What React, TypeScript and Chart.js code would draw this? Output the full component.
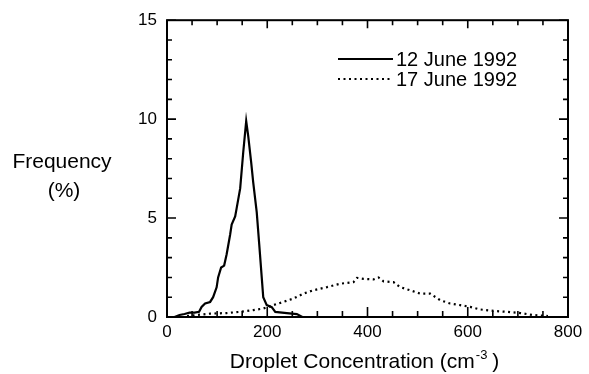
import { useEffect, useRef } from 'react';
import { Chart, registerables } from 'chart.js';

Chart.register(...registerables);

// ---- data ----
const seriesNames = ['12 June 1992', '17 June 1992'];

const june12X = [15, 25, 35, 45, 55, 64, 69, 76, 86, 92, 99, 102, 108, 114, 119, 126, 129, 136, 139, 146, 152, 158, 162, 168, 172, 179, 184, 189, 192, 199, 209, 216, 239, 259, 270];
const june12Y = [0, 0.1, 0.15, 0.22, 0.22, 0.26, 0.51, 0.68, 0.76, 1.0, 1.5, 2.0, 2.5, 2.6, 3.17, 4.17, 4.67, 5.08, 5.5, 6.5, 8.3, 9.9, 9.15, 7.8, 6.8, 5.3, 3.67, 2.0, 1.0, 0.6, 0.5, 0.26, 0.2, 0.15, 0];

const june17X = [40, 86, 119, 146, 172, 192, 212, 232, 252, 272, 292, 319, 345, 372, 379, 392, 412, 422, 432, 452, 465, 485, 505, 525, 545, 565, 585, 605, 625, 651, 678, 705, 730, 760];
const june17Y = [0.05, 0.17, 0.2, 0.26, 0.35, 0.43, 0.6, 0.76, 0.93, 1.18, 1.35, 1.51, 1.68, 1.76, 1.98, 1.93, 1.9, 2.0, 1.8, 1.76, 1.51, 1.35, 1.18, 1.18, 0.85, 0.68, 0.6, 0.51, 0.38, 0.31, 0.26, 0.2, 0.1, 0.05];

const xMajorTicks = [0, 200, 400, 600, 800];
const xMinorTicks = [50, 100, 150, 250, 300, 350, 450, 500, 550, 650, 700, 750];
const yMajorTicks = [0, 5, 10, 15];
const yMinorTicks = [1, 2, 3, 4, 6, 7, 8, 9, 11, 12, 13, 14];

const xTitleMain = 'Droplet Concentration (cm';
const xTitleSup = '-3';
const xTitleEnd = ' )';
const yTitleLines = ['Frequency', '(%)'];

const FONT = '"Liberation Sans", Arial, Helvetica, sans-serif';

const framePlugin = {
  id: 'frameTicks',
  afterDatasetsDraw(chart: any) {
    const { ctx, chartArea: a, scales } = chart;
    const x = scales.x;
    const y = scales.y;
    ctx.save();
    ctx.strokeStyle = '#000';
    ctx.lineWidth = 2;
    ctx.strokeRect(a.left, a.top, a.right - a.left, a.bottom - a.top);
    ctx.lineWidth = 1.6;
    ctx.beginPath();
    const vt = (v: number, bl: number, tl: number) => {
      const px = x.getPixelForValue(v);
      ctx.moveTo(px, a.bottom);
      ctx.lineTo(px, a.bottom - bl);
      ctx.moveTo(px, a.top);
      ctx.lineTo(px, a.top + tl);
    };
    const ht = (v: number, len: number) => {
      const py = y.getPixelForValue(v);
      ctx.moveTo(a.left, py);
      ctx.lineTo(a.left + len, py);
      ctx.moveTo(a.right, py);
      ctx.lineTo(a.right - len, py);
    };
    xMajorTicks.forEach((v) => vt(v, 10, 8));
    xMinorTicks.forEach((v) => vt(v, 6, 5));
    yMajorTicks.forEach((v) => ht(v, 9));
    yMinorTicks.forEach((v) => ht(v, 5));
    ctx.stroke();
    ctx.restore();
  },
  afterDraw(chart: any) {
    const { ctx, chartArea: a } = chart;
    ctx.save();
    ctx.fillStyle = '#000';
    // y title
    ctx.font = `21px ${FONT}`;
    ctx.textAlign = 'center';
    ctx.textBaseline = 'middle';
    ctx.fillText(yTitleLines[0], 62, 162);
    ctx.fillText(yTitleLines[1], 64, 191);
    // x title with superscript
    const mainFont = `21px ${FONT}`;
    const supFont = `13px ${FONT}`;
    ctx.font = mainFont;
    const w1 = ctx.measureText(xTitleMain).width;
    const w3 = ctx.measureText(xTitleEnd).width;
    ctx.font = supFont;
    const w2 = ctx.measureText(xTitleSup).width;
    const total = w1 + w2 + w3;
    const cx = (a.left + a.right) / 2 - 3;
    let sx = cx - total / 2;
    const by = 368;
    ctx.textAlign = 'left';
    ctx.textBaseline = 'alphabetic';
    ctx.font = mainFont;
    ctx.fillText(xTitleMain, sx, by);
    sx += w1;
    ctx.font = supFont;
    ctx.fillText(xTitleSup, sx + 1, by - 9);
    sx += w2;
    ctx.font = mainFont;
    ctx.fillText(xTitleEnd, sx, by);
    // legend
    const ds = chart.data.datasets;
    const rows = [59, 79];
    ctx.font = `20px ${FONT}`;
    ctx.textBaseline = 'middle';
    rows.forEach((ry, i) => {
      ctx.save();
      ctx.strokeStyle = '#000';
      ctx.lineWidth = ds[i].borderWidth;
      ctx.setLineDash(ds[i].borderDash || []);
      ctx.beginPath();
      ctx.moveTo(338, ry);
      ctx.lineTo(393, ry);
      ctx.stroke();
      ctx.restore();
      ctx.fillText(ds[i].label, 396, ry + 1);
    });
    ctx.restore();
  },
};

export default function App() {
  const ref = useRef<HTMLCanvasElement | null>(null);
  useEffect(() => {
    if (!ref.current) return;
    const chart = new Chart(ref.current, {
      type: 'line',
      data: {
        datasets: [
          {
            label: seriesNames[0],
            data: june12X.map((v, i) => ({ x: v, y: june12Y[i] })),
            borderColor: '#000',
            borderWidth: 2.2,
            pointRadius: 0,
            tension: 0,
            fill: false,
          },
          {
            label: seriesNames[1],
            data: june17X.map((v, i) => ({ x: v, y: june17Y[i] })),
            borderColor: '#000',
            borderWidth: 2.2,
            borderDash: [2, 3.5],
            pointRadius: 0,
            tension: 0,
            fill: false,
          },
        ],
      },
      options: {
        animation: false,
        responsive: false,
        layout: { padding: { left: 0, top: 16, right: 21, bottom: 0 } },
        plugins: {
          legend: { display: false },
          tooltip: { enabled: false },
          title: { display: false },
        },
        scales: {
          x: {
            type: 'linear',
            min: 0,
            max: 800,
            grid: { display: false, drawTicks: false },
            border: { display: false },
            ticks: {
              stepSize: 200,
              padding: 5,
              color: '#000',
              font: { family: FONT, size: 17 },
              maxRotation: 0,
            },
            afterFit: (s: any) => {
              s.height = 57;
            },
          },
          y: {
            type: 'linear',
            min: 0,
            max: 15,
            grid: { display: false, drawTicks: false },
            border: { display: false },
            ticks: {
              stepSize: 5,
              padding: 10,
              color: '#000',
              font: { family: FONT, size: 17 },
            },
            afterFit: (s: any) => {
              s.width = 167;
            },
          },
        },
      },
      plugins: [framePlugin],
    } as any);
    return () => chart.destroy();
  }, []);
  return (
    <div style={{ position: 'absolute', left: 0, top: 0, width: 589, height: 374, background: '#fff' }}>
      <canvas ref={ref} width={589} height={374} style={{ display: 'block' }} />
    </div>
  );
}
